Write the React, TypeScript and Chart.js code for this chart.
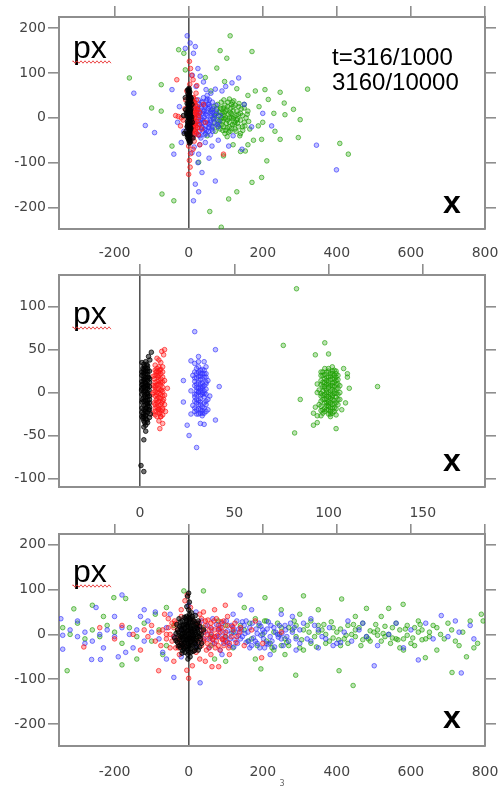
import React, { useEffect, useRef } from 'react';
import { Chart, registerables } from 'chart.js';
Chart.register(...registerables);

// ---------- tick labels ----------
const X_TICKS_WIDE = [-200, 0, 200, 400, 600, 800];
const Y_TICKS_WIDE = [-200, -100, 0, 100, 200];
const X_TICKS_ZOOM = [0, 50, 100, 150];
const Y_TICKS_ZOOM = [-100, -50, 0, 50, 100];
const Y_LABEL = 'px';
const X_LABEL = 'x';
const TIME_LINES = ['t=316/1000', '3160/10000'];
const SERIES_NAMES = ['black', 'red', 'blue', 'green'];

// ---------- panel 1 (top) : flat [x, y, x, y, ...] ----------
const P1_BLACK = [
  0, 0, 3, 8, -3, -8, 5, 16, -2, -16, 2, 24, 6, -24, -4, 32, 1, -32, 4, 40, -1, -40, 3, 48, 0, -48, 2, 56, 5, -54, -3, 62, 1, 66,
  -5, 4, 7, -4, 2, 12, -2, -12, 6, 20, -4, -20, 0, 28, 4, -28, -1, 36, 3, -36, 7, 44, -3, -44, 1, 52,
  8, 2, -6, 10, 4, -14, 9, 30, -7, -30, 10, -10, -8, 18, 2, -2, 0, 14, 5, 6, -2, 22, 3, -20, 6, 36, -5, -36, 0, 60, 2, -52,
  -12, -35, -14, 5, 12, -45, -9, 45,
];
const P1_BLACK_CORE = [
  1, -5, 4, 3, -2, 9, 3, -14, 0, 19, 5, -22, -1, 27, 2, -30, 4, 34, -3, -38, 1, 43, 3, -46, 0, 50, 2, -4, -2, 2, 5, 11,
  0, -10, 3, 17, -3, -19, 4, 25, 1, -26, -1, 31, 3, -33, 2, 38, 0, -42, 5, 46, -2, 54, 3, 58, 1, -50, 0, 7, 2, -18,
  -1, -24, 4, -40, 2, 30, -4, 14, 6, -12, 1, 63, 2, -56, -1, 44, 3, 0,
];
const P1_RED = [
  10, 0, 15, 10, 8, -10, 20, 20, 12, -20, 18, -30, 6, 30, 25, 5, 22, -8, 14, 35, 9, -35, 28, -15, 16, 15, 5, 8, 11, -5,
  24, 25, 19, -25, 7, -18, 13, 45, 21, 40, 26, -38, 30, 12, 17, 2, 4, -28,
  -20, 0, -28, 3, -15, -5, -35, 5, -22, -18, -10, 20, -32, 85, -5, 60, 3, 75, 8, 95, 5, 110, 2, 126, 12, 85, 22, 72,
  0, -63, 5, -80, 2, -95, 4, -110, 0, -126, 12, -70, 15, -52, 30, -60, 94, -81, 40, 30, 35, -25, 45, -10, 20, 55, -8, 40,
];
const P1_RED_CORE = [
  8, 3, 12, -3, 16, 7, 10, -14, 14, 20, 6, -22, 18, -8, 9, 14, 13, -28, 7, 24, 20, -18, 11, 30, 15, -38, 5, -5, 22, 12,
  17, -12, 10, 38, 8, -30, 24, -22, 13, 4, 19, 28, 6, 16, 27, 0, 9, -42, 14, -16, 12, 44, 21, -34, 16, 34, 7, -12, 25, 18,
];
const P1_BLUE = [
  20, 0, 30, 10, 40, -10, 25, 20, 35, -20, 50, 5, 45, 25, 55, -15, 28, -30, 38, 35, 60, 10, 48, -28, 22, 15, 32, -5,
  42, 15, 58, -5, 65, 20, 52, 30, 30, -40, 70, 0, 18, -12, 26, 40, 36, -2, 44, -38, 62, -25, 75, 15, 15, 25, 34, 22,
  46, 8, 56, 40, 68, -12, 24, -22, 40, 45, 80, -20, 54, -30, 16, -35, 33, -45, 50, 50, 85, 5, 64, 35,
  -4, 183, 4, 167, 18, 159, 13, 144, -9, 155, 31, 93, 47, 63, 72, 64, 117, 78, 135, 89, 25, 110, 40, 80, 60, 55, 90, 60,
  100, 70, 20, 70, 10, 95,
  -148, 55, -117, -17, -92, -33, -40, -81, -45, 63, -13, -30, 9, -44, 45, -55, 63, -63, 108, -63, 9, -78, 27, -81,
  36, -122, 18, -148, 27, -165, 13, -185, 72, -141, 144, -70, 224, -18, 345, -61, 399, -116, -20, -55, 25, -100,
  55, -90, 80, -50, 120, -40, 30, -60, 15, -65, -25, 25, -30, -10, 150, 30, 170, -20, 200, 10,
];
const P1_BLUE_CORE = [
  28, 5, 38, -5, 48, 15, 58, -10, 33, 25, 43, -25, 53, 20, 63, -20, 30, -15, 40, 15, 50, -5, 60, 5, 35, 35, 45, -35,
  55, 30, 65, -30, 25, -8, 72, 8, 37, 10, 47, -18, 57, 25, 67, -2, 29, 30, 39, -30, 49, 38, 59, -38, 42, 2, 52, -12,
  62, 18, 77, -15, 22, 8, 34, -12, 44, 28, 54, -22, 64, 12, 74, 28, 82, -8, 27, -38, 50, 42, 36, -22,
];
const P1_GREEN = [
  100, 0, 90, 10, 110, -10, 80, 5, 120, 15, 95, -20, 105, 25, 85, -25, 130, -5, 75, 20, 115, 30, 70, -10, 125, -25,
  140, 10, 88, 35, 98, -35, 135, 25, 65, 0, 150, -10, 108, 8, 92, -8, 118, -15, 82, -15, 128, 5, 102, 18, 112, -30,
  145, -20, 78, 30, 95, 40, 160, 15, 60, 15, 155, 0, 140, -35, 72, -30, 122, 38, 104, -42, 86, 22, 132, -12, 116, 0,
  96, 12, 66, -20, 165, -25, 150, 30, 110, 42,
  -160, 89, -74, 74, -74, 15, -100, 22, -27, 152, -13, 144, -9, 107, 112, 183, 85, 150, 171, 148, 103, 133, 76, 111,
  97, 81, 206, 63, 247, 57, 321, 64, 258, 33, 283, 19, 260, 7, 301, -4, 233, -30, 197, -48, 211, -96, 247, -48,
  296, -44, 408, -57, 431, -81, 197, -133, 171, -144, 130, -165, 108, -181, 57, -209, 88, -244, -72, -170, -40, -185,
  -45, -63, 27, -99, 94, -85, 153, -74, 215, 41, 188, -18, 180, 60, 190, 25, 175, -50, 160, -60, 120, -60, 140, -75,
  200, -10, 230, 10, 60, 60, 130, 65, 160, 50, 50, -40, 45, 90,
];
const P1_GREEN_CORE = [
  95, 5, 105, -5, 115, 10, 125, -10, 85, -5, 100, 15, 110, -20, 120, 25, 90, -15, 130, 15, 140, -5, 75, 10, 80, -20,
  135, -20, 145, 5, 98, 28, 108, -32, 118, 35, 128, -30, 88, 20, 92, -28, 102, -12, 112, 12, 122, 2, 132, -2, 142, 20,
  152, -18, 70, 5, 78, -5, 158, 8, 106, 35, 96, -2, 116, -24, 126, 28, 136, 32, 146, -28, 84, 12, 94, 22, 124, -14,
  104, -22, 114, 22, 134, 8, 162, -8, 68, 25, 110, 0, 100, -28, 120, -2, 90, 0, 150, 22, 138, -40,
];

// ---------- panel 2 (middle) ----------
const P2_BLACK = [
  2, 0, 3, 5, 4, -5, 1.5, 10, 3.5, -12, 2.5, 15, 4.5, 18, 1, -18, 3, -22, 2, 22, 4, 25, 3, -27, 1.5, 28, 5, -8, 0.8, 3,
  2.5, -3, 3.8, 8, 1.2, -8, 4.2, -15, 2.8, 12, 3.2, -18, 1.8, -25, 4.8, 3, 2.2, 30, 3.6, 33, 5.2, 38, 4.5, 42, 6, 47,
  3, 36, 1.5, -30, 2.5, -35, 3.8, -32, 2, -40, 3, -45, 2, -55, 0.5, -85, 2, -92, 4, 0, 1, 20, 5, 12, 2, 7, 3.5, -1,
  4.5, -20, 1.8, 16, 3, 25, 5.5, -25,
];
const P2_BLACK_CORE = [
  1, -2, 3, 2, 5, -4, 2, 6, 4, 9, 1, -11, 3, -14, 5, 16, 2, -20, 4, 21, 1, 24, 3, -26, 5, -29, 2, 27, 4, -9, 1, 13,
  3, 17, 5, -17, 2, -6, 4, -23, 1, 5, 3, 11, 5, 25, 2, -15, 4, 14, 1, -23, 3, 29, 5, 7, 2, 19, 4, -2, 1, -28, 3, -6,
  5, -12, 2, 33, 4, 31, 1, 35, 3, 8, 2, -33, 4, -35, 3, -38,
  2, -10, 4, -13, 3, -20, 2, 14, 4, 18, 3, 22, 2, -28, 4, 28, 3, -31, 2, 2, 4, 5, 3, -9, 1, 9, 5, -20, 2, 24,
];
const P2_RED = [
  9, 0, 8, 6, 10, -6, 11, 12, 7.5, -12, 9.5, 18, 12, -18, 8.5, 24, 10.5, -24, 11.5, 3, 7, 8, 9, -3, 10, 10, 12.5, -8,
  8, -18, 11, 22, 9, 28, 7.5, 16, 10, -15, 12, 6, 8.5, -9, 11, -2, 13, 14, 6.5, -2, 9.5, -20, 10.5, 26, 12, 30, 11, 35,
  10, 38, 12.5, 44, 13, 50, 11.5, 48, 9, 40, 8, 32, 13.5, -22, 11, -28, 10, -33, 12, -36, 10.5, -42, 14.5, 5, 7, -24,
  9, 13, 11.5, -12, 8, 2,
];
const P2_RED_CORE = [
  8, -4, 10, 4, 12, -10, 9, 9, 11, -14, 7, 19, 10, -19, 12, 24, 8, -26, 9, -7, 11, 16, 13, -3, 8, 12, 10, -22, 12, 18,
  9, 25, 11, -28, 7, 0, 10, 20, 12, -26, 8, -14, 9, 4, 11, 9, 13, -14, 10, 30, 8, 20, 12, 1, 9, -12, 11, 27, 10, -1,
  9, -17, 11, -7, 10, 14, 8, -22, 12, 12, 9, 20, 11, 3, 10, -10, 8, 8, 12, -20, 9, -28, 11, -21, 10, 24, 8, 26, 12, -4,
];
const P2_BLUE = [
  31, 0, 33, 5, 29, -5, 35, 10, 30, -12, 32, 15, 34, -18, 28, 20, 36, -8, 31, 24, 33, -24, 29, 8, 35, -2, 30, 28,
  32, -20, 34, 18, 28, -15, 36, 14, 31, -9, 33, 11, 29, -22, 35, 22, 32, 3, 30, 6, 34, -12, 31, 30, 33, -27, 27, 2,
  37, -4, 29, 34, 35, 30, 31, 36, 27, 37, 34, 36, 31, 42, 29, 71, 40, 50, 42, 7, 23, 14, 23, -11, 26, -50, 30, -64,
  25, -38, 40, -32, 32, -36, 34, -37, 27, -25, 36, -20, 30, 17, 32, -3,
];
const P2_BLUE_CORE = [
  30, 2, 32, -7, 34, 8, 31, -14, 33, 16, 29, -18, 35, -14, 30, 22, 32, 26, 34, -24, 31, 12, 33, -2, 29, 13, 35, 4,
  30, -20, 32, 10, 34, -5, 31, -25, 33, 22, 29, -2, 35, 18, 30, -8, 32, -14, 34, 26, 31, 5, 33, -17, 29, 24, 35, -22,
  32, 19, 33, 0,
  30, 10, 32, -11, 34, -1, 31, 19, 33, -21, 29, -10, 35, -10, 30, -2, 32, 22, 34, 2, 31, -19, 33, 7, 29, 17, 35, 12,
  32, -24, 30, -25, 34, 22, 31, 1, 33, 27, 32, 6,
];
const P2_GREEN = [
  100, 0, 98, 5, 102, -5, 104, 10, 96, -10, 101, 15, 99, -15, 103, 20, 97, -20, 100, 25, 105, -2, 95, 3, 102, 8,
  98, -8, 104, -12, 96, 14, 101, -18, 99, 18, 103, -1, 97, 7, 100, -10, 105, 15, 95, -14, 102, 22, 98, -22, 104, 4,
  96, 20, 101, 2, 99, -4, 103, 12, 97, -3, 100, 12, 106, -8, 94, 0, 102, -14, 98, 28, 104, 25, 101, -22, 97, 24,
  106, 8, 103, -18, 99, 10, 100, -25, 102, 30,
  83, 121, 76, 55, 98, 58, 100, 45, 93, 44, 126, 7, 82, -47, 85, -8, 111, 5, 108, 28, 110, 22, 110, 18, 104, -42,
  101, -28, 92, -38, 94, -35, 94, -27, 96, -27, 93, -17, 94, 10, 109, -12, 107, -20, 92, -24,
];
const P2_GREEN_CORE = [
  97, 2, 99, -7, 101, 8, 103, -9, 105, 5, 96, -16, 98, 16, 100, -20, 102, 16, 104, -19, 96, 9, 98, -12, 100, 6,
  102, -3, 104, 18, 97, 20, 99, 24, 101, -12, 103, 2, 105, -14, 96, -4, 98, 12, 100, -16, 102, -24, 104, -5, 97, -24,
  99, 3, 101, 22, 103, 26, 105, 20, 98, -2, 100, 18, 102, 11, 104, -26, 106, 0, 101, -7, 99, -20, 103, 7,
  96, -1, 98, -18, 100, 9, 102, -8, 104, 14, 97, 12, 99, -12, 101, 19, 103, -22, 105, -8, 96, 24, 98, 21, 100, -5,
  102, 4, 104, -1, 97, -8, 99, 14, 101, -25, 103, -13, 105, 10, 100, 28, 102, -18, 98, 7, 104, 22, 96, -21, 101, -2,
  103, 16, 99, 0, 100, -13, 102, 25,
];

// ---------- panel 3 (bottom) ----------
const P3_BLACK = [
  0, 0, 10, 5, -10, -5, 5, 15, -5, -15, 15, -10, -15, 10, 20, 0, -20, 0, 0, 25, 0, -25, 12, 20, -12, -20, 18, -20,
  -18, 20, 8, -8, -8, 8, 25, 12, -25, -12, 3, 35, -3, -35, 28, -5, -28, 5, 14, 30, -14, -30, 22, -28, -22, 28, 6, -32,
  -6, 32, 30, 18, -30, -18, 10, 40, -10, -40, 2, 45, -2, -45, 16, 8, -16, -8, 4, -18, -4, 18, 24, 25, -24, -25,
  12, -38, -12, 38, 34, 0, -34, 2, 8, 48, 0, 55, -5, 62, 2, 72, -3, 85, 0, 92, 4, -50, -2, -55, 0, -40, 35, -20,
  -32, 22, 40, 10, -38, -8, 18, 42, -18, -42, 26, -35, -26, 35, 6, 12, -6, -12, 12, -2, -12, 2, 20, -14, -20, 14,
  30, -28, 10, -22, -10, 22, 3, -8, -3, 8,
];
const P3_BLACK_CORE = [
  -22, -6, -16, -22, -8, -28, 0, -32, 8, -26, 16, -18, 22, -6, 24, 6, 18, 16, 10, 26, 2, 30, -6, 28, -14, 20, -20, 10,
  -26, -2, -18, -12, -10, -18, -2, -20, 6, -16, 14, -4, 14, 12, 6, 20, -2, 18, -10, 14, -16, 2, -8, -2, 0, -8, 8, 0,
  0, 10, 4, 4, -4, -4, 2, -12, -12, -10, 10, -12, 18, 4, -20, -20, 20, 22, -24, 18, 26, -18, -6, 40, 6, 36, 12, 32,
  -18, 30, 20, -30, -12, -32, -2, -28, 6, -40, -8, 36, 26, 30, -28, -26, 28, 2, -30, 10, 16, -36, 0, 38, -16, -36,
  32, -10, -34, -14, 12, -8, -4, -10, 8, 8, -10, 4, 4, -24, -6, 22, 22, 14, -22, -30,
];
const P3_RED = [
  -50, 0, -40, 15, -30, -15, -60, -10, -45, 25, -35, -30, -70, 10, 50, 0, 40, -15, 60, 15, 70, -5, 80, 20, 45, 30,
  55, -30, 90, -10, 100, 5, 65, -20, 75, 35, 110, -20, 120, 10, 35, 10, -20, 40, 20, -40, 30, 45, -25, -45, 85, -35,
  95, 30, 130, -5, 140, 15, 150, -25, -80, 5, -90, -15, -100, 20, -110, -5, -120, 10, -75, -25, -55, 35, 105, 40,
  25, 20, -15, -25, 15, 28, 60, -45, 40, 50, -65, 45,
  -81, -81, 0, -98, 63, -72, 81, -72, -283, -28, -4, 88, -20, 55, 99, 65, 197, -52, -150, 0, -180, 20, -200, -10,
  170, 10, 200, -20, 180, 30, -130, -35, -40, -60, 10, -70, 30, -55, 110, -45, 5, 60, -10, 75, 70, 55, -240, 15,
  250, 5, -5, -80, 45, -60,
];
const P3_RED_CORE = [
  -40, -5, -30, 10, -20, -20, -45, -15, -55, 15, -35, 25, -25, -8, 30, -5, 40, 5, 50, -20, 60, 25, 70, 10, 80, -25,
  90, 15, 100, -15, 35, -25, 45, 20, 55, 10, 65, -10, 75, -15, 85, 5, 95, -25, 105, 20, 115, -5, 125, 25, 35, 35,
  -50, -30, -38, 30, 48, -35, 58, -8, 68, 30, 78, -2, 88, 28, 98, -5, 108, -30, 118, 18, 128, -18, 138, 5, -60, 0,
  -28, -30, 42, -10, 52, 32, 62, 0, 72, -30, 82, 12, 92, -12, 28, 25, 25, -15,
];
const P3_BLUE = [
  60, 0, 80, 10, 100, -5, 120, 15, 140, -10, 160, 5, 180, -15, 200, 10, 220, -5, 240, 0, 70, -20, 90, 25, 110, -25,
  130, 30, 150, 20, 170, -25, 190, 25, 210, -20, 230, 15, 250, -10, 50, 20, 40, -10, 30, 15, 20, -25, 65, 35, 85, -35,
  105, 8, 125, -12, 145, 28, 165, -30, 185, 2, 205, -30, 260, 20, 270, -15, 280, 5, 95, -12, 115, 2, 135, 12, 155, -18,
  75, -5, 55, -30, 35, 30, 195, -2, 215, 28,
  -20, 10, -40, -5, -60, 15, -80, -10, -100, 5, -120, -15, -140, 10, -160, 0, -180, 15, -200, -5, -220, 10, -240, 0,
  -260, -15, -280, 5, -300, -5, -320, 10, -340, -2, -345, 35, -340, -33, -180, 88, -250, 60, -262, -56, -238, -56,
  -40, -96, -190, -50, -130, 40, -90, 50, -150, -30, -110, 30, -70, -40, -50, 45, -300, 30, -230, -30, -200, 40,
  -170, -40, -280, -20, -120, 55, -60, -55, -20, -50, 0, 65, 20, 50,
  300, 10, 320, -10, 340, 20, 360, -5, 380, 15, 400, -20, 420, 5, 440, -15, 460, 10, 480, -5, 510, -25, 540, 0,
  580, -30, 620, -57, 640, 25, 682, 42, 700, -5, 730, 5, 760, 20, 770, -10, 501, -70, 736, -86, 139, 88, 31, -108,
  290, -35, 330, 35, 350, -30, 390, -25, 410, -18, 430, 30, 470, 25, 560, 25, 600, 10, 660, -10, 720, 30, 250, 45,
  170, 55, 120, 45, 90, -45, 220, -45, 280, 40, 300, -20,
];
const P3_BLUE_CORE = [
  45, 5, 65, -12, 85, 15, 105, -18, 125, 5, 145, -5, 165, 15, 185, -20, 205, 5, 225, -15, 245, 20, 265, -5, 285, 15,
  55, -10, 75, 22, 95, -20, 115, 20, 135, -2, 155, 30, 175, -8, 195, 18, 215, -22, 235, 5, 255, -25, 275, 25, 62, 12,
  82, -5, 102, 30, 122, -28, 142, 10, 162, -15, 182, 12, 202, -10, 222, 20, 242, -6, 262, 10, 92, 5, 112, -10,
  132, -20, 152, 2, 172, 25, 192, -30, 212, 12, 232, -28, 252, 2, 290, -10, 310, 25, 330, -15, 350, 10, 370, -10,
];
const P3_GREEN = [
  -340, 15, -320, 0, -300, 25, -280, -10, -260, 10, -240, -5, -220, 20, -200, 5, -180, -20, -160, 15, -140, -5,
  -120, 25, -100, -15, -80, 10, -60, -25, -40, 20, -20, -5, 20, -10, 40, 15, 60, -25, 80, 30, 100, -5, 120, -30,
  140, 20, 160, -15, 180, 35, 200, 0, 220, -20, 240, 25, 260, -10, 280, 10, 300, -30, 320, 20, 340, -5, 360, 10,
  380, -15, 400, 5, 420, -10, 440, 0, 460, 15, 480, -5, 500, 5, 520, -15, 540, 0, 560, 25, 580, -10, 600, -20,
  620, 5, 640, -10, 660, 20, 680, 0, 700, 25, 720, -15, 740, 5, 760, 30, 780, -20, 795, 30, 790, 45,
  210, 30, 230, -35, 250, 15, 270, -25, 290, 20, 310, -35, 330, 30, 350, 5, 370, -20, 390, 15, 410, -25, 430, 20,
  450, -5, 470, 25, 490, -15, 510, 10, 530, -5, 550, 15, 570, -30, 590, 20, 610, -25, 630, 10, 650, -5, 670, 15,
  690, -10, 710, 10, 730, -25, 770, -30,
  444, -114, 711, -85, 289, -91, 310, 86, 413, 79, 206, 82, 150, 60, -328, -81, -202, 82, -170, 80, -260, 65,
  -310, 57, 406, -81, 195, -77, -180, -68, -13, 97, 40, 97, 579, 67, 480, 58, 540, 58, 639, -52, 580, -35, -140, -55,
  -90, 45, -60, 60, 70, -55, 260, -45, 350, 55, 300, 45, 450, 40, 520, 40, 620, 30, 670, -35, 750, -50, -230, 40,
  -70, -45, 100, -60, 180, -55, 250, 55, 560, -10,
];
const P3_GREEN_CORE = [
  150, 10, 170, -10, 190, 20, 210, -15, 230, 5, 250, -25, 270, 15, 290, -5, 310, 10, 330, -20, 350, 20, 370, 0,
  390, -8, 410, 12, 430, -20, 450, 10, 470, -12, 490, 8, 510, -2, 530, 18, 550, -8, 570, 10, 590, -2, 610, 15,
  630, -12, 650, 5, 165, 25, 185, -25, 205, 30, 225, -30, 245, 0, 265, -18, 285, 30, 305, -12, 325, 5, 345, -28,
  365, 22, 385, 28, 405, -12, 425, -2, 445, 22, 465, -25, 485, -10, 505, 22, 525, 2, 545, -20, 565, -12, 585, 12,
  605, -8, 625, 22, 120, 5, 100, 20, 60, -5,
];

// ---------- styling ----------
const SERIES_STYLE = [
  { border: 'rgba(0,0,0,0.75)', fill: 'rgba(0,0,0,0.55)' },
  { border: 'rgba(255,20,20,0.68)', fill: 'rgba(255,20,20,0.32)' },
  { border: 'rgba(50,50,255,0.64)', fill: 'rgba(50,50,255,0.3)' },
  { border: 'rgba(30,160,0,0.64)', fill: 'rgba(30,160,0,0.3)' },
];
const FRAME = '#8e8e8e';
const ZERO = '#555555';
const TICK_TEXT = '#444444';
const W = 502;
const AREA_L = 59;
const AREA_R = 485;

function pairs(a: number[]) {
  const out: { x: number; y: number }[] = [];
  for (let i = 0; i + 1 < a.length; i += 2) out.push({ x: a[i], y: a[i + 1] });
  return out;
}

type PanelCfg = {
  top: number;
  height: number;
  areaTop: number;
  areaBottom: number;
  xMin: number; xMax: number; yMin: number; yMax: number;
  xTicks: number[]; yTicks: number[];
  series: number[][];
  labelPad: number;
  pxBase: number;
  xBase: number;
  showTime?: boolean;
  footnote?: boolean;
};

const PANELS: PanelCfg[] = [
  {
    top: 0, height: 262, areaTop: 17, areaBottom: 229,
    xMin: -350, xMax: 800, yMin: -248, yMax: 225,
    xTicks: X_TICKS_WIDE, yTicks: Y_TICKS_WIDE,
    series: [
      [...P1_BLACK, ...P1_BLACK_CORE], [...P1_RED, ...P1_RED_CORE],
      [...P1_BLUE, ...P1_BLUE_CORE], [...P1_GREEN, ...P1_GREEN_CORE],
    ],
    labelPad: 16, pxBase: 58, xBase: 213, showTime: true,
  },
  {
    top: 262, height: 262, areaTop: 13, areaBottom: 225,
    xMin: -43, xMax: 183, yMin: -110, yMax: 137,
    xTicks: X_TICKS_ZOOM, yTicks: Y_TICKS_ZOOM,
    series: [
      [...P2_BLACK, ...P2_BLACK_CORE], [...P2_RED, ...P2_RED_CORE],
      [...P2_BLUE, ...P2_BLUE_CORE], [...P2_GREEN, ...P2_GREEN_CORE],
    ],
    labelPad: 18, pxBase: 62, xBase: 209,
  },
  {
    top: 524, height: 263, areaTop: 10, areaBottom: 222,
    xMin: -350, xMax: 800, yMin: -249, yMax: 224,
    xTicks: X_TICKS_WIDE, yTicks: Y_TICKS_WIDE,
    series: [
      [...P3_BLACK, ...P3_BLACK_CORE], [...P3_RED, ...P3_RED_CORE],
      [...P3_BLUE, ...P3_BLUE_CORE], [...P3_GREEN, ...P3_GREEN_CORE],
    ],
    labelPad: 18, pxBase: 58, xBase: 204, footnote: true,
  },
];

function setTicks(list: number[]) {
  return (s: any) => { s.ticks = list.map((v) => ({ value: v })); };
}
function fitH(h: number) {
  return (s: any) => { s.height = h; s.paddingLeft = 0; s.paddingRight = 0; s.paddingTop = 0; s.paddingBottom = 0; };
}
function fitW(w: number) {
  return (s: any) => { s.width = w; s.paddingLeft = 0; s.paddingRight = 0; s.paddingTop = 0; s.paddingBottom = 0; };
}

function Panel({ cfg }: { cfg: PanelCfg }) {
  const ref = useRef<HTMLCanvasElement>(null);
  useEffect(() => {
    const canvas = ref.current!;
    const tickFont = { family: '"DejaVu Sans", sans-serif', size: 14 };
    const textPlugin = {
      id: 'panelText',
      afterDraw(chart: any) {
        const ctx = chart.ctx as CanvasRenderingContext2D;
        ctx.save();
        ctx.fillStyle = '#000';
        ctx.textAlign = 'left';
        ctx.textBaseline = 'alphabetic';
        ctx.font = '32px "Liberation Sans", Arial, sans-serif';
        ctx.fillText(Y_LABEL, 73, cfg.pxBase);
        const w = ctx.measureText(Y_LABEL).width;
        ctx.strokeStyle = 'rgba(230,40,40,0.85)';
        ctx.lineWidth = 1;
        ctx.beginPath();
        let up = true;
        const sy = cfg.pxBase + 4;
        ctx.moveTo(73, sy);
        for (let x = 73; x <= 73 + w + 6; x += 2) {
          ctx.lineTo(x, sy + (up ? -1.2 : 1.2));
          up = !up;
        }
        ctx.stroke();
        ctx.font = 'bold 32px "Liberation Sans", Arial, sans-serif';
        ctx.fillText(X_LABEL, 443, cfg.xBase);
        if (cfg.showTime) {
          ctx.font = '24px "Liberation Sans", Arial, sans-serif';
          ctx.fillText(TIME_LINES[0], 332, 65);
          ctx.fillText(TIME_LINES[1], 332, 90);
        }
        if (cfg.footnote) {
          ctx.font = '8px "DejaVu Sans", sans-serif';
          ctx.fillStyle = '#666';
          ctx.textAlign = 'center';
          ctx.fillText('3', 282, 262);
        }
        ctx.restore();
      },
    };
    const chart = new Chart(canvas, {
      type: 'scatter',
      data: {
        datasets: cfg.series.map((s, i) => ({
          label: SERIES_NAMES[i],
          data: pairs(s),
          pointRadius: 2.3,
          pointHoverRadius: 2.3,
          borderWidth: 1,
          pointBorderColor: SERIES_STYLE[i].border,
          pointBackgroundColor: SERIES_STYLE[i].fill,
          borderColor: SERIES_STYLE[i].border,
          backgroundColor: SERIES_STYLE[i].fill,
          showLine: false,
          xAxisID: 'x',
          yAxisID: 'y',
        })),
      },
      options: {
        animation: false,
        responsive: false,
        devicePixelRatio: 1,
        events: [],
        layout: { padding: 0 },
        plugins: { legend: { display: false }, tooltip: { enabled: false } },
        scales: {
          x: {
            type: 'linear', position: 'bottom', min: cfg.xMin, max: cfg.xMax,
            afterBuildTicks: setTicks(cfg.xTicks),
            afterFit: fitH(cfg.height - cfg.areaBottom),
            grid: {
              drawTicks: false, drawOnChartArea: true,
              color: (c: any) => (c.tick && c.tick.value === 0 ? ZERO : 'rgba(0,0,0,0)'),
              lineWidth: 1.6,
            },
            border: { display: true, color: FRAME, width: 2 },
            ticks: { padding: cfg.labelPad, color: TICK_TEXT, font: tickFont, autoSkip: false, maxRotation: 0 },
          },
          xTop: {
            type: 'linear', position: 'top', min: cfg.xMin, max: cfg.xMax,
            afterBuildTicks: setTicks(cfg.xTicks),
            afterFit: fitH(cfg.areaTop),
            grid: { drawTicks: true, drawOnChartArea: false, tickLength: 11, color: FRAME, lineWidth: 1.6 },
            border: { display: true, color: FRAME, width: 2 },
            ticks: { display: false },
          },
          y: {
            type: 'linear', position: 'left', min: cfg.yMin, max: cfg.yMax,
            afterBuildTicks: setTicks(cfg.yTicks),
            afterFit: fitW(AREA_L),
            grid: { drawTicks: true, drawOnChartArea: false, tickLength: 11, color: FRAME, lineWidth: 1.6 },
            border: { display: true, color: FRAME, width: 2 },
            ticks: { padding: 2, color: TICK_TEXT, font: tickFont, autoSkip: false },
          },
          yRight: {
            type: 'linear', position: 'right', min: cfg.yMin, max: cfg.yMax,
            afterBuildTicks: setTicks(cfg.yTicks),
            afterFit: fitW(W - AREA_R),
            grid: { drawTicks: true, drawOnChartArea: false, tickLength: 11, color: FRAME, lineWidth: 1.6 },
            border: { display: true, color: FRAME, width: 2 },
            ticks: { display: false },
          },
        },
      } as any,
      plugins: [textPlugin],
    });
    return () => chart.destroy();
  }, [cfg]);
  return (
    <canvas
      ref={ref}
      width={W}
      height={cfg.height}
      style={{ position: 'absolute', left: 0, top: cfg.top, width: W, height: cfg.height, display: 'block' }}
    />
  );
}

export default function App() {
  return (
    <div style={{ position: 'fixed', left: 0, top: 0, width: W, height: 787, background: '#fff', overflow: 'hidden' }}>
      {PANELS.map((p, i) => (
        <Panel key={i} cfg={p} />
      ))}
    </div>
  );
}
